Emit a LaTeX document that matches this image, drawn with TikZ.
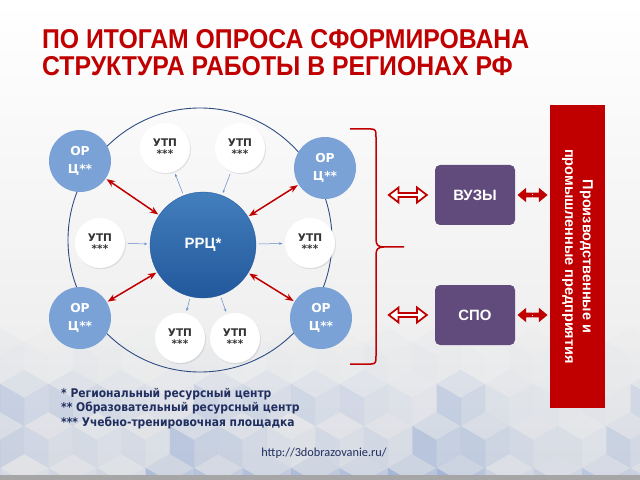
\documentclass[tikz,border=0pt]{standalone}
\usepackage{fontspec}
\setmainfont{Liberation Sans}
\newfontfamily\roundfont{DejaVu Sans}
\newfontfamily\legendfont{DejaVu Sans Condensed}
\newfontfamily\urlfont{Carlito}
\usetikzlibrary{
    arrows.meta,
    calc,
    positioning,
    shadows,
    shapes.arrows
}
\definecolor{titlered}{RGB}{192,0,0}
\definecolor{ringblue}{RGB}{44,74,128}
\definecolor{rrcblue}{RGB}{46,112,182}
\definecolor{rrcdark}{RGB}{34,88,156}
\definecolor{orcblue}{RGB}{122,162,214}
\definecolor{linkblue}{RGB}{96,140,200}
\definecolor{vuzpurple}{RGB}{96,75,124}
\definecolor{navytext}{RGB}{32,46,96}
\definecolor{hexblue}{RGB}{80,120,195}
\tikzset{
    every picture/.style = {
        > = Stealth
    },
    orc/.style = {
        circle,
        fill = orcblue,
        minimum size = 62*0.4mm,
        inner sep = 0pt,
        text = white,
        align = center,
        font = \roundfont\bfseries\fontsize{14}{21}\selectfont
    },
    utp/.style = {
        circle,
        fill = white,
        minimum size = 50*0.4mm,
        inner sep = 0pt,
        drop shadow = {opacity = 0.18, shadow xshift = 0.4mm, shadow yshift = -0.5mm},
        text = black!80,
        align = center,
        font = \roundfont\bfseries\fontsize{12}{13}\selectfont
    },
    rrc/.style = {
        circle,
        top color = rrcblue!90!white,
        bottom color = rrcdark,
        draw = rrcdark,
        minimum size = 106*0.4mm,
        text = white,
        font = \bfseries\fontsize{17}{17}\selectfont
    },
    eduboard/.style = {
        rectangle,
        rounded corners = 2mm,
        fill = vuzpurple,
        minimum width = 80*0.4mm,
        minimum height = 60*0.4mm,
        text = white,
        font = \bfseries\fontsize{17}{17}\selectfont
    },
    redlink/.style = {
        {Stealth[length = 3.4mm, width = 2.6mm]}-{Stealth[length = 3.4mm, width = 2.6mm]},
        draw = titlered,
        line width = 0.6mm,
        shorten < = 0.4mm,
        shorten > = 0.4mm
    },
    bluelink/.style = {
        -{Stealth[length = 1.3mm, width = 1mm]},
        draw = linkblue,
        line width = 0.2mm,
        shorten < = 1mm,
        shorten > = 1mm
    },
    hollowarrow/.style = {
        double arrow,
        draw = titlered,
        fill = white,
        line width = 0.7mm,
        minimum height = 38*0.4mm,
        minimum width = 6mm,
        double arrow head extend = 2mm,
        double arrow tip angle = 75,
        inner sep = 0.4mm
    },
    solidarrow/.style = {
        double arrow,
        fill = titlered,
        minimum height = 30*0.4mm,
        minimum width = 5.8mm,
        double arrow head extend = 1.7mm,
        double arrow tip angle = 80,
        inner sep = 0.8mm,
        path picture = {
            \draw[white, line width = 0.4mm, dash pattern = on 0.4mm off 0.5mm]
                (path picture bounding box.north) -- (path picture bounding box.south);
        }
    }
}

\begin{document}
\begin{tikzpicture}[x = 0.4mm, y = -0.4mm]

    % background
    \useasboundingbox (0, 0) rectangle (640, 480);
    \shade[top color = white, bottom color = black!9] (0, 0) rectangle (640, 480);
    \pgfmathsetseed{11}
    \begin{scope}
        \clip (0, 0) rectangle (640, 480);
        \foreach \r in {0,...,4} {
            \foreach \c in {-1,...,14} {
                \pgfmathsetmacro\cx{\c*48.5 + mod(\r,2)*24.25}
                \pgfmathsetmacro\cy{356 + \r*42}
                \pgfmathsetmacro\op{(0.07 + 0.3*rnd)*min(1, 0.12 + 0.38*\r)}
                \fill[hexblue, opacity = \op*0.6] (\cx, \cy-28) -- (\cx+24.25, \cy-14) -- (\cx, \cy) -- (\cx-24.25, \cy-14) -- cycle;
                \fill[hexblue, opacity = \op*1.4] (\cx-24.25, \cy-14) -- (\cx, \cy) -- (\cx, \cy+28) -- (\cx-24.25, \cy+14) -- cycle;
                \fill[hexblue, opacity = \op] (\cx, \cy) -- (\cx+24.25, \cy-14) -- (\cx+24.25, \cy+14) -- (\cx, \cy+28) -- cycle;
            }
        }
    \end{scope}
    \fill[black!35] (0, 475) rectangle (640, 480);

    % title
    \node[anchor = north west, align = left, text = titlered, inner sep = 0pt, xscale = 0.91,
          font = \bfseries\fontsize{31}{31}\selectfont] (title) at (42, 29)
        {ПО ИТОГАМ ОПРОСА СФОРМИРОВАНА\\СТРУКТУРА РАБОТЫ В РЕГИОНАХ РФ};

    % ring with centres
    \draw[ringblue, line width = 0.35mm] (200, 240) circle [radius = 132];

    \node[rrc] (rrc) at (203, 245) {РРЦ*};

    \node[orc] (orc1) at (80, 161) {ОР\\Ц**};
    \node[orc] (orc2) at (325, 168) {ОР\\Ц**};
    \node[orc] (orc3) at (80, 318) {ОР\\Ц**};
    \node[orc] (orc4) at (321, 318) {ОР\\Ц**};

    \node[utp] (utp1) at (165, 148) {УТП\\***};
    \node[utp] (utp2) at (240, 148) {УТП\\***};
    \node[utp] (utp3) at (100, 243) {УТП\\***};
    \node[utp] (utp4) at (310, 243) {УТП\\***};
    \node[utp] (utp5) at (180, 338) {УТП\\***};
    \node[utp] (utp6) at (235, 338) {УТП\\***};

    \foreach \o in {orc1, orc2, orc3, orc4}
        \draw[redlink] (\o) -- (rrc);

    \draw[bluelink] (rrc) -- (utp1);
    \draw[bluelink] (utp2) -- (rrc);
    \draw[bluelink] (utp3) -- (rrc);
    \draw[bluelink] (rrc) -- (utp4);
    \draw[bluelink] (rrc) -- (utp5);
    \draw[bluelink] (rrc) -- (utp6);

    % right part
    \draw[titlered, line width = 0.6mm]
        (350, 129) -- (371, 129) .. controls (376, 129) and (376, 131) .. (376, 137)
        -- (376, 239) .. controls (376, 245) and (378, 247) .. (384, 247) -- (404, 247);
    \draw[titlered, line width = 0.6mm]
        (350, 364) -- (371, 364) .. controls (376, 364) and (376, 362) .. (376, 356)
        -- (376, 255) .. controls (376, 249) and (378, 247) .. (384, 247);

    \node[eduboard] (vuz) at (475, 195) {ВУЗЫ};
    \node[eduboard] (spo) at (475, 315) {СПО};

    \node[rectangle, fill = titlered, minimum width = 55*0.4mm, minimum height = 303*0.4mm]
        (bar) at (577.5, 256.5) {};
    \node[rotate = -90, align = center, text = white, inner sep = 0pt,
          font = \bfseries\fontsize{16.5}{20}\selectfont] (bartext) at (bar)
        {Производственные и\\промышленные предприятия};

    \node[hollowarrow] (a1) at ($(vuz.west) + (-27, 0)$) {};
    \node[hollowarrow] (a2) at ($(spo.west) + (-27, 0)$) {};
    \node[solidarrow] (a3) at ($(vuz.east)!0.5!(vuz.east -| bar.west)$) {};
    \node[solidarrow] (a4) at ($(spo.east)!0.5!(spo.east -| bar.west)$) {};

    % legend
    \node[anchor = north west, align = left, text = navytext, inner sep = 0pt,
          font = \legendfont\bfseries\fontsize{13.6}{16.5}\selectfont] (legend) at (61, 388)
        {* Региональный ресурсный центр\\** Образовательный ресурсный центр\\*** Учебно-тренировочная площадка};

    \node[text = navytext, inner sep = 0pt, font = \urlfont\fontsize{14}{14}\selectfont]
        (url) at (324, 453) {http://3dobrazovanie.ru/};

\end{tikzpicture}
\end{document}
